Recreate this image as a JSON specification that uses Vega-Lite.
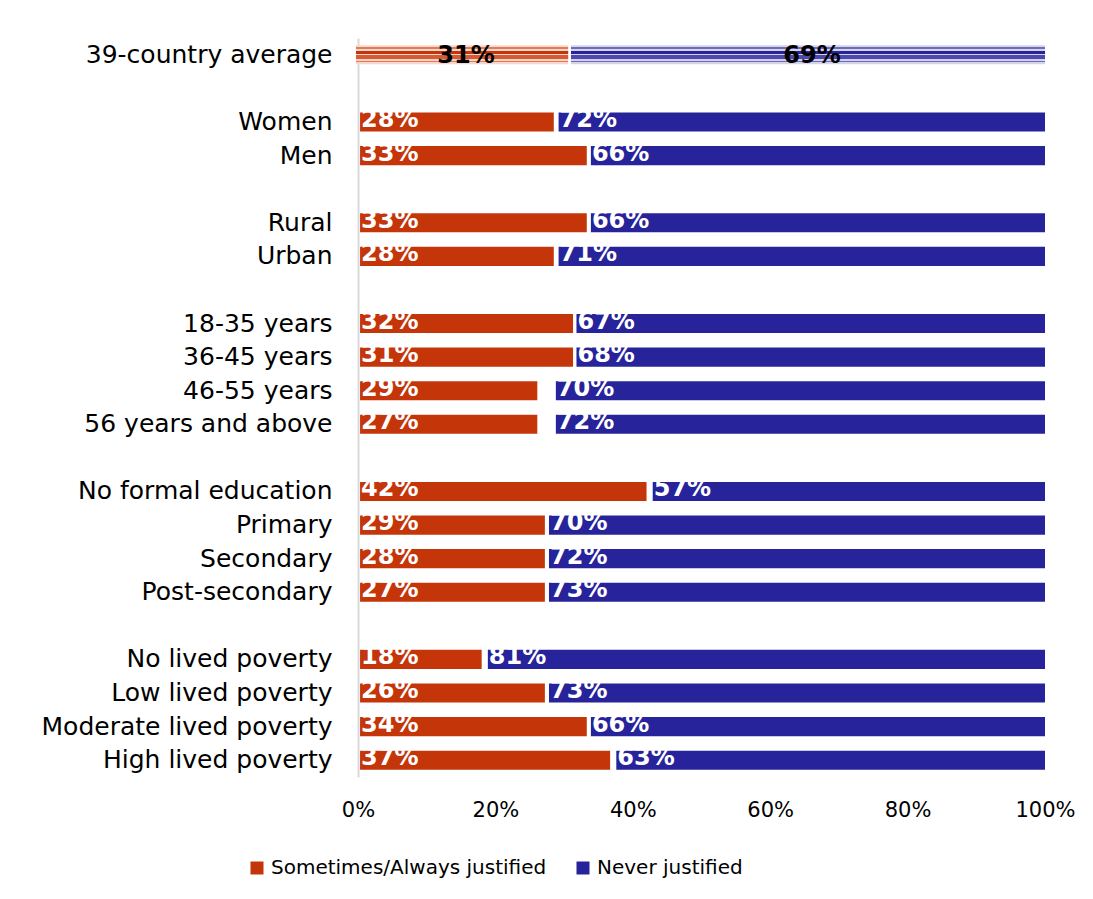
{
  "$schema": "https://vega.github.io/schema/vega-lite/v6.json",
  "width": 687,
  "height": 739,
  "autosize": {"type": "none"},
  "padding": {"left": 358, "top": 38, "right": 48, "bottom": 122},
  "background": "white",
  "config": {
    "view": {"stroke": null},
    "font": "DejaVu Sans",
    "axisX": {
      "title": null,
      "domain": false,
      "ticks": false,
      "grid": false,
      "labelFontSize": 21,
      "labelFont": "DejaVu Sans",
      "labelColor": "#000000",
      "labelPadding": 22,
      "labelFlush": false
    }
  },
  "data": {
    "values": [
      {"group": "39-country average", "series": "Sometimes/Always justified", "start": -0.3, "end": 30.6, "label": "31%"},
      {"group": "39-country average", "series": "Never justified", "start": 31.0, "end": 100, "label": "69%"},
      {"group": "Women", "series": "Sometimes/Always justified", "start": 0.3, "end": 28.5, "label": "28%"},
      {"group": "Women", "series": "Never justified", "start": 29.2, "end": 100, "label": "72%"},
      {"group": "Men", "series": "Sometimes/Always justified", "start": 0.3, "end": 33.3, "label": "33%"},
      {"group": "Men", "series": "Never justified", "start": 33.9, "end": 100, "label": "66%"},
      {"group": "Rural", "series": "Sometimes/Always justified", "start": 0.3, "end": 33.3, "label": "33%"},
      {"group": "Rural", "series": "Never justified", "start": 33.9, "end": 100, "label": "66%"},
      {"group": "Urban", "series": "Sometimes/Always justified", "start": 0.3, "end": 28.5, "label": "28%"},
      {"group": "Urban", "series": "Never justified", "start": 29.2, "end": 100, "label": "71%"},
      {"group": "18-35 years", "series": "Sometimes/Always justified", "start": 0.3, "end": 31.3, "label": "32%"},
      {"group": "18-35 years", "series": "Never justified", "start": 31.8, "end": 100, "label": "67%"},
      {"group": "36-45 years", "series": "Sometimes/Always justified", "start": 0.3, "end": 31.3, "label": "31%"},
      {"group": "36-45 years", "series": "Never justified", "start": 31.8, "end": 100, "label": "68%"},
      {"group": "46-55 years", "series": "Sometimes/Always justified", "start": 0.3, "end": 26.1, "label": "29%"},
      {"group": "46-55 years", "series": "Never justified", "start": 28.8, "end": 100, "label": "70%"},
      {"group": "56 years and above", "series": "Sometimes/Always justified", "start": 0.3, "end": 26.1, "label": "27%"},
      {"group": "56 years and above", "series": "Never justified", "start": 28.8, "end": 100, "label": "72%"},
      {"group": "No formal education", "series": "Sometimes/Always justified", "start": 0.3, "end": 42.0, "label": "42%"},
      {"group": "No formal education", "series": "Never justified", "start": 42.9, "end": 100, "label": "57%"},
      {"group": "Primary", "series": "Sometimes/Always justified", "start": 0.3, "end": 27.2, "label": "29%"},
      {"group": "Primary", "series": "Never justified", "start": 27.8, "end": 100, "label": "70%"},
      {"group": "Secondary", "series": "Sometimes/Always justified", "start": 0.3, "end": 27.2, "label": "28%"},
      {"group": "Secondary", "series": "Never justified", "start": 27.8, "end": 100, "label": "72%"},
      {"group": "Post-secondary", "series": "Sometimes/Always justified", "start": 0.3, "end": 27.2, "label": "27%"},
      {"group": "Post-secondary", "series": "Never justified", "start": 27.8, "end": 100, "label": "73%"},
      {"group": "No lived poverty", "series": "Sometimes/Always justified", "start": 0.3, "end": 18.0, "label": "18%"},
      {"group": "No lived poverty", "series": "Never justified", "start": 18.9, "end": 100, "label": "81%"},
      {"group": "Low lived poverty", "series": "Sometimes/Always justified", "start": 0.3, "end": 27.2, "label": "26%"},
      {"group": "Low lived poverty", "series": "Never justified", "start": 27.8, "end": 100, "label": "73%"},
      {"group": "Moderate lived poverty", "series": "Sometimes/Always justified", "start": 0.3, "end": 33.3, "label": "34%"},
      {"group": "Moderate lived poverty", "series": "Never justified", "start": 33.9, "end": 100, "label": "66%"},
      {"group": "High lived poverty", "series": "Sometimes/Always justified", "start": 0.3, "end": 36.7, "label": "37%"},
      {"group": "High lived poverty", "series": "Never justified", "start": 37.6, "end": 100, "label": "63%"}
    ]
  },
  "encoding": {
    "y": {
      "field": "group",
      "type": "nominal",
      "scale": {
        "domain": ["39-country average", "gap1", "Women", "Men", "gap2", "Rural", "Urban", "gap3", "18-35 years", "36-45 years", "46-55 years", "56 years and above", "gap4", "No formal education", "Primary", "Secondary", "Post-secondary", "gap5", "No lived poverty", "Low lived poverty", "Moderate lived poverty", "High lived poverty"],
        "paddingInner": 0.43,
        "paddingOuter": 0.215
      },
      "axis": {
        "title": null,
        "ticks": false,
        "domainColor": "#D9D9D9",
        "domainWidth": 2,
        "labelFontSize": 25,
        "labelFont": "DejaVu Sans",
        "labelColor": "#000000",
        "labelPadding": 26,
        "labelLimit": 500,
        "labelExpr": "indexof(datum.value, 'gap') == 0 ? '' : (datum.value == '39-country average' ? '39-country average\u00a0\u00a0\u00a0' : datum.value)"
      }
    }
  },
  "layer": [
    {
      "transform": [{"filter": "datum.group != '39-country average'"}],
      "mark": {"type": "bar"},
      "encoding": {
        "x": {
          "field": "start",
          "type": "quantitative",
          "scale": {"domain": [0, 100], "nice": false, "zero": false},
          "axis": {"title": null, "values": [0, 20, 40, 60, 80, 100], "labelExpr": "datum.value + '%'"}
        },
        "x2": {"field": "end"},
        "color": {
          "field": "series",
          "type": "nominal",
          "scale": {"domain": ["Sometimes/Always justified", "Never justified"], "range": ["#C4350A", "#27239B"]},
          "legend": {
            "orient": "none",
            "legendX": -111,
            "legendY": 820,
            "direction": "horizontal",
            "title": null,
            "symbolType": "square",
            "symbolSize": 169,
            "symbolStrokeWidth": 0,
            "labelFontSize": 20,
            "labelFont": "DejaVu Sans",
            "labelColor": "#000000",
            "labelLimit": 500,
            "columnPadding": 26,
            "labelOffset": 4,
            "padding": 0
          }
        }
      }
    },
    {
      "transform": [{"filter": "datum.group == '39-country average' && datum.series == 'Sometimes/Always justified'"}],
      "mark": {
        "type": "bar",
        "color": {
          "gradient": "linear", "x1": 0, "y1": 0, "x2": 0, "y2": 1,
          "stops": [
            {"offset": 0, "color": "#F8D6C9"}, {"offset": 0.08, "color": "#F8D6C9"},
            {"offset": 0.08, "color": "#E07C5A"}, {"offset": 0.2, "color": "#E07C5A"},
            {"offset": 0.2, "color": "#F8D6C9"}, {"offset": 0.28, "color": "#F8D6C9"},
            {"offset": 0.28, "color": "#C4350A"}, {"offset": 0.45, "color": "#C4350A"},
            {"offset": 0.45, "color": "#F8D6C9"}, {"offset": 0.53, "color": "#F8D6C9"},
            {"offset": 0.53, "color": "#D65A33"}, {"offset": 0.7, "color": "#D65A33"},
            {"offset": 0.7, "color": "#F8D6C9"}, {"offset": 0.8, "color": "#F8D6C9"},
            {"offset": 0.8, "color": "#E07C5A"}, {"offset": 0.9, "color": "#E07C5A"},
            {"offset": 0.9, "color": "#F8D6C9"}, {"offset": 1, "color": "#F8D6C9"}
          ]
        }
      },
      "encoding": {
        "x": {"field": "start", "type": "quantitative", "axis": {"title": null, "values": [0, 20, 40, 60, 80, 100], "labelExpr": "datum.value + '%'"}},
        "x2": {"field": "end"}
      }
    },
    {
      "transform": [{"filter": "datum.group == '39-country average' && datum.series == 'Never justified'"}],
      "mark": {
        "type": "bar",
        "color": {
          "gradient": "linear", "x1": 0, "y1": 0, "x2": 0, "y2": 1,
          "stops": [
            {"offset": 0, "color": "#D4D3EC"}, {"offset": 0.08, "color": "#D4D3EC"},
            {"offset": 0.08, "color": "#6F6CBD"}, {"offset": 0.2, "color": "#6F6CBD"},
            {"offset": 0.2, "color": "#D4D3EC"}, {"offset": 0.28, "color": "#D4D3EC"},
            {"offset": 0.28, "color": "#27239B"}, {"offset": 0.45, "color": "#27239B"},
            {"offset": 0.45, "color": "#D4D3EC"}, {"offset": 0.53, "color": "#D4D3EC"},
            {"offset": 0.53, "color": "#4C49AE"}, {"offset": 0.7, "color": "#4C49AE"},
            {"offset": 0.7, "color": "#D4D3EC"}, {"offset": 0.8, "color": "#D4D3EC"},
            {"offset": 0.8, "color": "#6F6CBD"}, {"offset": 0.9, "color": "#6F6CBD"},
            {"offset": 0.9, "color": "#D4D3EC"}, {"offset": 1, "color": "#D4D3EC"}
          ]
        }
      },
      "encoding": {
        "x": {"field": "start", "type": "quantitative", "axis": {"title": null, "values": [0, 20, 40, 60, 80, 100], "labelExpr": "datum.value + '%'"}},
        "x2": {"field": "end"}
      }
    },
    {
      "transform": [{"filter": "datum.group != '39-country average'"}],
      "mark": {"type": "text", "color": "#FFFFFF", "fontWeight": "bold", "fontSize": 24, "font": "DejaVu Sans", "align": "left", "baseline": "alphabetic", "dx": 1, "dy": 5},
      "encoding": {
        "x": {"field": "start", "type": "quantitative", "axis": {"title": null, "values": [0, 20, 40, 60, 80, 100], "labelExpr": "datum.value + '%'"}},
        "text": {"field": "label"}
      }
    },
    {
      "transform": [
        {"filter": "datum.group == '39-country average'"},
        {"fold": ["start", "end"], "as": ["edge", "pos"]},
        {"aggregate": [{"op": "mean", "field": "pos", "as": "mid"}], "groupby": ["group", "series", "label"]}
      ],
      "mark": {"type": "text", "color": "#000000", "fontWeight": "bold", "fontSize": 24, "font": "DejaVu Sans", "align": "center", "baseline": "alphabetic", "dx": 4, "dy": 8},
      "encoding": {
        "x": {"field": "mid", "type": "quantitative", "axis": {"title": null, "values": [0, 20, 40, 60, 80, 100], "labelExpr": "datum.value + '%'"}},
        "text": {"field": "label"}
      }
    }
  ]
}
